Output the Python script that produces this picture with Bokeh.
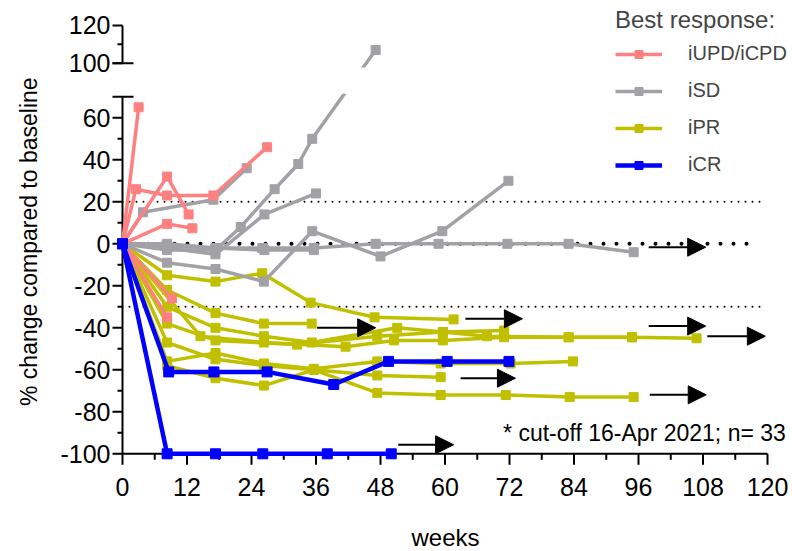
import math
from bokeh.plotting import figure
from bokeh.models import (Range1d, Label, Legend, LegendItem, Arrow, NormalHead,
                          BoxAnnotation, ColumnDataSource)
from bokeh.embed import file_html
from bokeh.resources import INLINE
from bokeh.core.properties import value

FONT = "Liberation Sans"

# ---------------- data (weeks, % change from baseline) ----------------
pink_weeks = [[0, 3.0], [0, 2.5, 8.3, 16.9, 26.9], [0, 8.3, 12.3], [0, 8.3, 13.0], [0, 9.2], [0, 8.3]]
pink_change = [[0, 65], [0, 26, 23, 23, 46], [0, 32, 14], [0, 9.5, 7.4], [0, -26], [0, -35]]

grey_weeks = [
    [0, 3.8, 16.9, 23.1],
    [0, 8.3, 17.3, 22.0, 28.3, 32.7, 35.3, 47.1],
    [0, 8.3, 17.3, 26.4, 36.0],
    [0, 8.3, 17.3, 26.3, 35.3, 48.0, 59.5, 71.8],
    [0, 8.3, 17.3, 26.0, 35.6, 47.1, 58.8, 71.6, 83.0, 95.1],
    [0, 8.3, 17.3, 26.4, 35.6],
]
grey_change = [
    [0, 15, 21, 36],
    [0, -3, -3, 8, 26, 38, 50, 107],
    [0, -2, -5, 14, 24],
    [0, -9, -12, -18, 6, -6, 6, 30],
    [0, 0, -2, -2, -2, 0, 0, 0, 0, -4],
    [0, -1, -2, -3, -3],
]

yellow_weeks = [
    [0, 8.3, 17.3, 26.0, 35.0, 46.9, 61.6],
    [0, 8.3, 17.3, 26.3, 35.2],
    [0, 8.3, 17.3, 26.3, 35.2, 51.1, 59.6, 67.8, 83.0, 94.8],
    [0, 14.5, 26.3, 41.5, 50.5, 59.6, 71.0, 83.0, 94.8, 106.8],
    [0, 8.3, 17.3, 32.5, 47.4, 59.6, 71.0],
    [0, 8.3, 17.3, 26.3, 35.6, 47.4, 59.2],
    [0, 8.3, 17.3, 26.3, 35.6, 47.4, 59.2, 71.3, 83.2, 95.1],
    [0, 8.3, 17.3, 26.3, 35.6, 47.4, 59.2, 72.2, 83.8],
]
yellow_change = [
    [0, -15, -18, -14, -28, -35, -36],
    [0, -22, -33, -38, -38],
    [0, -30, -40, -44, -47, -40, -42, -44, -44.5, -44.5],
    [0, -44, -47, -49, -46, -46, -44.5, -44.5, -44.5, -45],
    [0, -38, -46, -48, -44, -42, -41.3],
    [0, -58, -64, -67.5, -60, -62.7, -63.5],
    [0, -47, -55, -58, -60, -71, -72, -72, -73, -73],
    [0, -56, -52, -57, -59.5, -56, -57, -57, -56],
]

blue_weeks = [[0, 8.6, 17.0, 26.9, 39.3, 49.5, 60.4, 71.9], [0, 8.3, 17.3, 26.1, 38.1, 50.0]]
blue_change = [[0, -61, -61, -61, -67, -56, -56, -56], [0, -100, -100, -100, -100, -100]]

# ongoing-treatment arrows
arrow_start_weeks = [51.3, 97.9, 36.2, 63.8, 97.9, 108.8, 62.9, 98.1]
arrow_end_weeks = [61.6, 108.5, 47.1, 74.4, 108.5, 119.6, 73.1, 108.6]
arrow_change = [-95.7, -1.6, -40.0, -35.7, -39.2, -44.0, -64.0, -71.9]

# reference levels
ref_levels = [20, -30]
zero_level = [0]

x_ticks = list(range(0, 121, 12))
x_minor = list(range(6, 120, 12))
y_ticks_low = list(range(-100, 61, 20))
y_minor_low = list(range(-90, 51, 20))
y_ticks_high = [100, 120]
y_minor_high = [110]

groups = [
    ("iUPD/iCPD", pink_weeks, pink_change, "#FF8080"),
    ("iSD", grey_weeks, grey_change, "#A2A2A6"),
    ("iPR", yellow_weeks, yellow_change, "#C0C000"),
    ("iCR", blue_weeks, blue_change, "#0000FF"),
]

# ---------------- axis break mapping ----------------
BREAK_BOTTOM = 70
BREAK_TOP = 100
BREAK_AT = 86
UPPER_SCALE = 0.9


def yplot(v):
    return v if v <= BREAK_BOTTOM else BREAK_AT + (v - BREAK_TOP) * UPPER_SCALE


W, H = 792, 551
PX_X = 5.375   # pixels per week
PX_Y = 2.1     # pixels per % unit
X0_PX = 122.0  # pixel of week 0
Y0_PX = 243.3  # pixel of 0 %
x_start = -X0_PX / PX_X
y_end = Y0_PX / PX_Y

p = figure(width=W, height=H,
           x_range=Range1d(x_start, x_start + W / PX_X),
           y_range=Range1d(y_end - H / PX_Y, y_end),
           output_backend="svg", toolbar_location=None,
           x_axis_location=None, y_axis_location=None,
           min_border=0, min_border_left=0, min_border_right=0,
           min_border_top=0, min_border_bottom=0)
p.outline_line_color = None
p.xgrid.visible = False
p.ygrid.visible = False
p.background_fill_color = "white"

dx = 1.0 / PX_X  # one pixel in weeks
dy = 1.0 / PX_Y  # one pixel in % units

# ---- x axis (drawn) ----
p.segment(x0=[0], y0=[-100], x1=[120], y1=[-100], line_color="black", line_width=2)
p.segment(x0=x_ticks, y0=[-100] * len(x_ticks), x1=x_ticks, y1=[-100 - 11 * dy] * len(x_ticks),
          line_color="black", line_width=2)
p.segment(x0=x_minor, y0=[-100] * len(x_minor), x1=x_minor, y1=[-100 - 6 * dy] * len(x_minor),
          line_color="black", line_width=2)
p.text(x=x_ticks, y=[-100 - 32.7 * dy] * len(x_ticks), text=[str(t) for t in x_ticks],
       text_align="center", text_baseline="middle", text_color="black",
       text_font=value(FONT), text_font_size=value("25px"))

# ---- broken y axis (drawn) ----
y_major_pos = y_ticks_low + [yplot(v) for v in y_ticks_high]
y_major_lab = [str(v) for v in y_ticks_low + y_ticks_high]
y_minor_pos = y_minor_low + [yplot(v) for v in y_minor_high]
p.segment(x0=[0, 0], y0=[-100, yplot(BREAK_TOP)], x1=[0, 0], y1=[BREAK_BOTTOM, yplot(120)],
          line_color="black", line_width=2)
p.segment(x0=[-10 * dx] * len(y_major_pos), y0=y_major_pos, x1=[0] * len(y_major_pos), y1=y_major_pos,
          line_color="black", line_width=2)
p.segment(x0=[-5 * dx] * len(y_minor_pos), y0=y_minor_pos, x1=[0] * len(y_minor_pos), y1=y_minor_pos,
          line_color="black", line_width=2)
# break caps
p.segment(x0=[-10 * dx, -10 * dx], y0=[BREAK_BOTTOM, yplot(BREAK_TOP)],
          x1=[11 * dx, 11 * dx], y1=[BREAK_BOTTOM, yplot(BREAK_TOP)],
          line_color="black", line_width=2)
p.text(x=[-12 * dx] * len(y_major_pos), y=y_major_pos, text=y_major_lab,
       text_align="right", text_baseline="middle", text_color="black",
       text_font=value(FONT), text_font_size=value("25px"))

# reference lines
for lv in ref_levels:
    p.line([0, 119.2], [lv, lv], line_color="black", line_width=2, line_dash="0 7", line_cap="round")
for lv in zero_level:
    p.line([0, 117.6], [lv, lv], line_color="black", line_width=4, line_dash="0 13", line_cap="round")

draw_order = [2, 1, 0, 3]
first = {}
for gi in draw_order:
    name, wks, chg, col = groups[gi]
    lw = 4.5 if name == "iCR" else 3.5
    ms = 10 if name == "iCR" else 9
    for k, (w, c) in enumerate(zip(wks, chg)):
        yy = [yplot(v) for v in c]
        lr = p.line(w, yy, line_color=col, line_width=lw)
        sr = p.scatter(w, yy, marker="square", size=ms, fill_color=col, line_color=col)
        if k == 0:
            first[gi] = [lr, sr]

# hide the segment crossing the axis break
p.add_layout(BoxAnnotation(left=20, right=60, bottom=71.5, top=84, fill_color="white",
                           fill_alpha=1, line_color=None))

# arrows
asrc = ColumnDataSource(dict(x0=arrow_start_weeks, x1=arrow_end_weeks, y=arrow_change))
p.add_layout(Arrow(x_start="x0", y_start="y", x_end="x1", y_end="y", source=asrc,
                   line_color="black", line_width=2,
                   end=NormalHead(size=18, fill_color="black", line_color="black", line_width=1)))

legend = Legend(items=[LegendItem(label=groups[i][0], renderers=first[i]) for i in range(4)],
                location=(615, 375), title="Best response:",
                title_text_font=FONT, title_text_font_size="24px", title_text_font_style="normal",
                label_text_font=FONT, label_text_font_size="20px",
                glyph_width=47, glyph_height=20, label_height=20, label_standoff=26,
                spacing=14, padding=0, margin=0, title_standoff=8,
                border_line_color=None, background_fill_alpha=0)
p.add_layout(legend, "center")

p.add_layout(Label(x=(28 - X0_PX) * dx, y=1, text="% change compared to baseline", angle=math.pi / 2,
                   text_align="center", text_baseline="middle",
                   text_font=FONT, text_font_size="23px", text_color="black"))
p.add_layout(Label(x=60.1, y=(Y0_PX - 536.5) * dy, text="weeks", text_align="center",
                   text_baseline="middle", text_font=FONT, text_font_size="24px", text_color="black"))
p.add_layout(Label(x=70.8, y=(Y0_PX - 432.7) * dy, text="* cut-off 16-Apr 2021; n= 33",
                   text_align="left", text_baseline="middle", text_font=FONT,
                   text_font_size="23px", text_color="black"))

open("out.html", "w").write(file_html(p, INLINE))
